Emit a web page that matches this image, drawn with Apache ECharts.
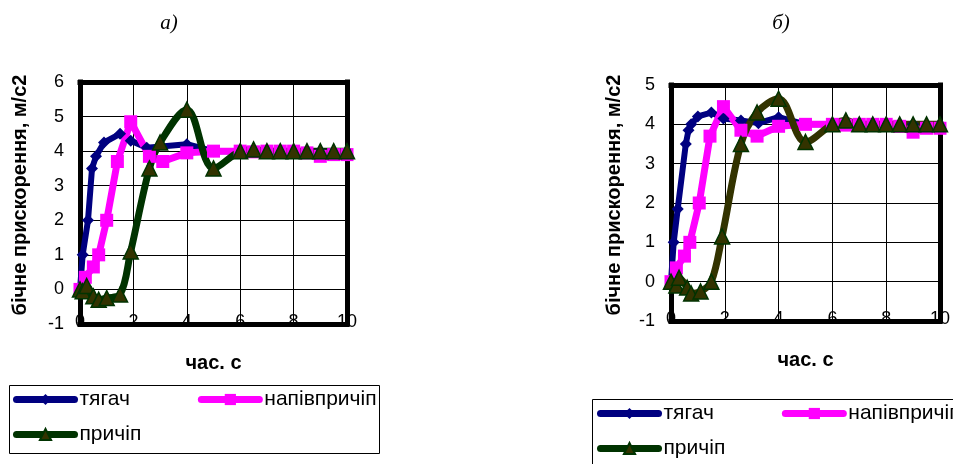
<!DOCTYPE html>
<html>
<head>
<meta charset="utf-8">
<title>бічне прискорення</title>
<script src="https://cdn.jsdelivr.net/npm/echarts@6/dist/echarts.min.js"></script>
<style>
    html, body { margin: 0; padding: 0; background: #fff; }
    #chart { width: 953px; height: 464px; }
</style>
</head>
<body>
<div id="chart"></div>
<script>
    // а) — [час, прискорення]
    var tyagachA = [[0, 0], [0.1, 1], [0.3, 2], [0.45, 3.5], [0.6, 3.85], [0.9, 4.25], [1.5, 4.5], [1.9, 4.3], [2.5, 4.1], [4, 4.2], [5, 4], [6, 4], [7, 4], [8, 4], [9, 4], [10, 4]];
    var napivA = [[0, 0], [0.2, 0.35], [0.5, 0.65], [0.7, 1], [1, 2], [1.4, 3.7], [1.9, 4.85], [2.6, 3.85], [3.1, 3.7], [4, 3.95], [5, 4], [6, 4], [6.5, 3.98], [7, 4], [7.5, 4], [8, 4], [8.5, 3.95], [9, 3.85], [9.5, 3.9], [10, 3.9]];
    var prychipA = [[0, 0], [0.1, -0.05], [0.25, 0.1], [0.5, -0.2], [0.7, -0.3], [1, -0.25], [1.5, -0.15], [1.9, 1.1], [2.6, 3.5], [3, 4.25], [4, 5.2], [5, 3.5], [6, 4], [6.5, 4.05], [7, 4], [7.5, 4], [8, 4], [8.5, 4], [9, 4], [9.5, 4], [10, 4]];

    // б)
    var tyagachB = [[0, 0], [0.1, 1], [0.25, 1.85], [0.55, 3.5], [0.65, 3.85], [0.75, 4], [1, 4.2], [1.5, 4.3], [1.95, 4.15], [2.6, 4.1], [3.25, 4.03], [4, 4.18], [5, 4], [6, 4], [7, 4], [8, 4], [9, 4], [10, 4]];
    var napivB = [[0, 0], [0.2, 0.35], [0.5, 0.65], [0.7, 1], [1.05, 2], [1.45, 3.7], [1.95, 4.45], [2.6, 3.85], [3.2, 3.7], [4, 3.95], [5, 4], [6, 4], [6.5, 3.98], [7, 4], [7.5, 4], [8, 4], [8.5, 3.95], [9, 3.8], [9.5, 3.9], [10, 3.9]];
    var prychipB = [[0, 0], [0.2, -0.1], [0.3, 0.1], [0.6, -0.15], [0.75, -0.3], [1.1, -0.25], [1.5, 0], [1.9, 1.15], [2.6, 3.5], [3.2, 4.3], [4, 4.65], [5, 3.55], [6, 4], [6.5, 4.1], [7, 4], [7.5, 4], [8, 4], [8.5, 4], [9, 4], [9.5, 4], [10, 4]];

    var names = ['тягач', 'напівпричіп', 'причіп'];
    var titles = ['а)', 'б)'];
    var yName = 'бічне прискорення, м/с2';
    var xName = 'час. с';

    var font = 'Liberation Sans, Arial, sans-serif';
    var frame = { show: true, onZero: false, lineStyle: { color: '#000', width: 5, cap: 'square' } };

    function xAxis(grid) {
        return {
            type: 'value', gridIndex: grid, min: 0, max: 10, interval: 2, position: 'bottom',
            name: xName, nameLocation: 'middle', nameGap: 29,
            nameTextStyle: { fontFamily: font, fontSize: 20, fontWeight: 'bold', color: '#000' },
            axisLine: frame, axisTick: { show: false },
            axisLabel: { margin: -11, fontFamily: font, fontSize: 18, color: '#000' },
            splitLine: { lineStyle: { color: '#000', width: 1 } }
        };
    }
    function yAxis(grid, max, gap) {
        return {
            type: 'value', gridIndex: grid, min: -1, max: max, interval: 1, position: 'left',
            name: yName, nameLocation: 'middle', nameGap: gap,
            nameTextStyle: { fontFamily: font, fontSize: 20, fontWeight: 'bold', color: '#000', padding: [0, 0, 0, 16] },
            axisLine: frame, axisTick: { show: false },
            axisLabel: { margin: 16, fontFamily: font, fontSize: 18, color: '#000' },
            splitLine: { lineStyle: { color: '#000', width: 1 } }
        };
    }
    // top / right edges of the plot frame
    function edge(grid, pos, min, max) {
        return {
            type: 'value', gridIndex: grid, position: pos, min: min, max: max,
            axisLine: frame, axisTick: { show: false }, axisLabel: { show: false }, splitLine: { show: false }
        };
    }
    function series(idx, blue, pink, green, greenLine) {
        return [{
            name: names[0], type: 'line', xAxisIndex: idx, yAxisIndex: idx, data: blue,
            symbol: 'diamond', symbolSize: 12,
            lineStyle: { color: '#000080', width: 6 },
            itemStyle: { color: '#000080' }
        }, {
            name: names[1], type: 'line', xAxisIndex: idx, yAxisIndex: idx, data: pink,
            symbol: 'rect', symbolSize: 13,
            lineStyle: { color: '#ff00ff', width: 7 },
            itemStyle: { color: '#ff00ff' }
        }, {
            name: names[2], type: 'line', xAxisIndex: idx, yAxisIndex: idx, data: green,
            symbol: 'triangle', symbolSize: 15, smooth: 0.35,
            lineStyle: { color: greenLine, width: 7 },
            itemStyle: { color: '#333300', borderColor: '#003300', borderWidth: 1.5 }
        }];
    }
    function legend(left, top, data) {
        return {
            left: left, top: top, width: 600, padding: 0, itemGap: 68,
            itemWidth: 58, itemHeight: 14, data: data,
            lineStyle: { width: 7, cap: 'round' },
            textStyle: { fontFamily: font, fontSize: 21, color: '#000' },
            selectedMode: false
        };
    }

    var myChart = echarts.init(document.getElementById('chart'));
    myChart.setOption({
        animation: false,
        backgroundColor: '#fff',
        title: [
            { text: titles[0], left: 164, top: 8, textAlign: 'center', textStyle: { fontFamily: 'Liberation Serif', fontStyle: 'italic', fontWeight: 'normal', fontSize: 21, color: '#000' } },
            { text: titles[1], left: 776, top: 8, textAlign: 'center', textStyle: { fontFamily: 'Liberation Serif', fontStyle: 'italic', fontWeight: 'normal', fontSize: 21, color: '#000' } }
        ],
        grid: [
            { left: 80, right: 606, top: 82, bottom: 140 },
            { left: 671, right: 9, top: 85, bottom: 143 }
        ],
        xAxis: [xAxis(0), xAxis(1), edge(0, 'top', 0, 10), edge(1, 'top', 0, 10)],
        yAxis: [yAxis(0, 6, 50), yAxis(1, 5, 47), edge(0, 'right', -1, 6), edge(1, 'right', -1, 5)],
        legend: [
            legend(13, 389, [names[0], names[1]]),
            legend(13, 424, [names[2]]),
            legend(597, 403, [names[0], names[1]]),
            legend(597, 438, [names[2]])
        ],
        graphic: [
            { type: 'rect', shape: { x: 9.5, y: 385.5, width: 370, height: 68 }, style: { fill: 'none', stroke: '#000', lineWidth: 1 } },
            { type: 'rect', shape: { x: 592.5, y: 399.5, width: 400, height: 100 }, style: { fill: 'none', stroke: '#000', lineWidth: 1 } }
        ],
        series: series(0, tyagachA, napivA, prychipA, '#003300')
            .concat(series(1, tyagachB, napivB, prychipB, '#333300'))
    });
</script>
</body>
</html>
